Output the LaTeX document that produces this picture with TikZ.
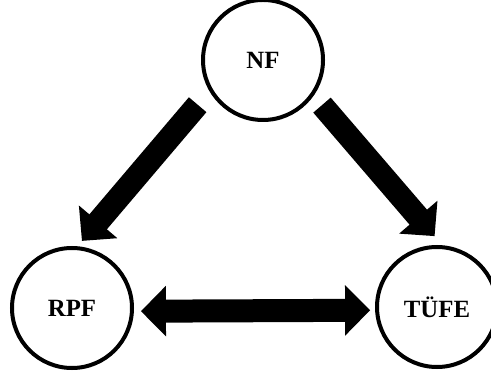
\documentclass[tikz,border=0pt]{standalone}
\usepackage{fontspec}
\setmainfont{Liberation Serif}
\usepackage{tikz}
\usetikzlibrary{
    arrows.meta,
    positioning
}
\tikzset{fat/.tip={Triangle[length=12.5pt, width=24.5pt]}}

\begin{document}
\begin{tikzpicture}[x=0.5pt, y=-0.5pt,
    var/.style={circle, draw, line width=2pt, minimum size=60pt, inner sep=0pt,
        font=\fontsize{12.4}{15}\selectfont\bfseries},
    flow/.style={line width=11.5pt, -fat}]
    \useasboundingbox (0, 0) rectangle (491, 378);
    \node[var] (nf) at (263, 60) {NF};
    \node[var] (rpf) at (72, 308) {RPF};
    \node[var] (tufe) at (437, 307) {TÜFE};
    \draw
    (nf.210) edge[flow, shorten <=9pt, shorten >=3.5pt] (rpf.85)
    (nf.325) edge[flow, shorten <=6.3pt, shorten >=6pt] (tufe.85)
    (rpf.-3) edge[flow, fat-fat, shorten <=3.5pt, shorten >=2.5pt] (tufe.183);
\end{tikzpicture}
\end{document}
